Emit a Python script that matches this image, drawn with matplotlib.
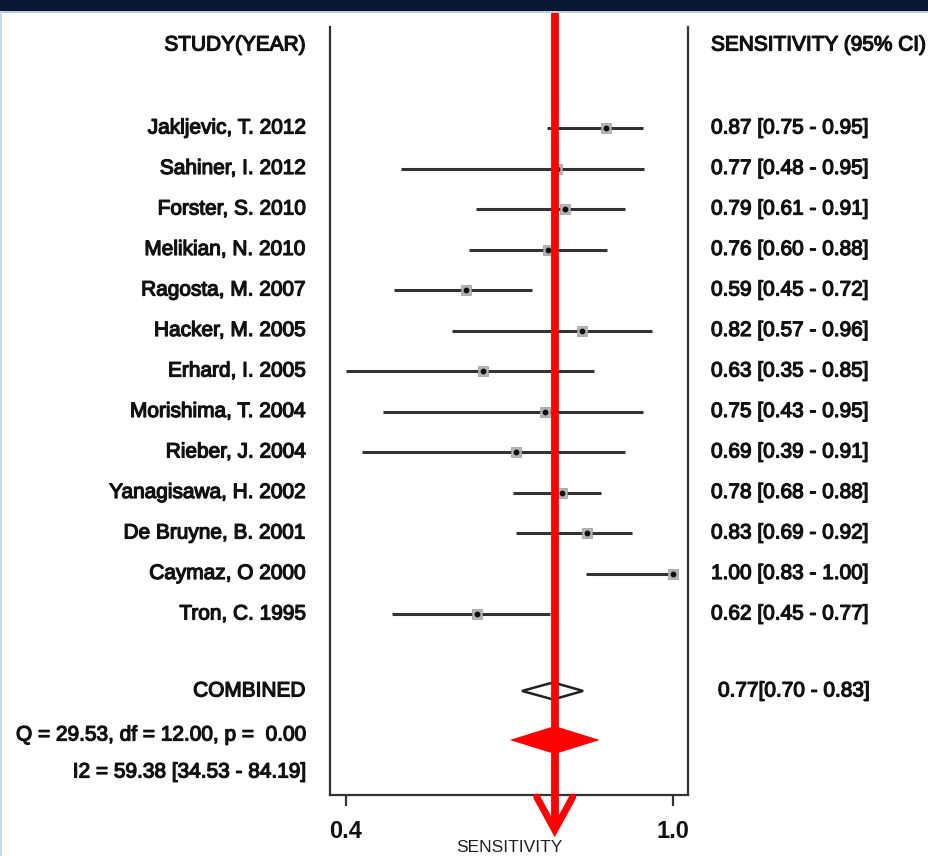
import matplotlib
matplotlib.use("Agg")
import matplotlib.pyplot as plt
import matplotlib.patheffects as pe
import numpy as np
from matplotlib.patches import Polygon, Rectangle
from matplotlib.transforms import blended_transform_factory

# ---------------------------------------------------------------- data --------
studies = ["Jakljevic, T. 2012", "Sahiner, I. 2012", "Forster, S. 2010",
           "Melikian, N. 2010", "Ragosta, M. 2007", "Hacker, M. 2005",
           "Erhard, I. 2005", "Morishima, T. 2004", "Rieber, J. 2004",
           "Yanagisawa, H. 2002", "De Bruyne, B. 2001", "Caymaz, O 2000",
           "Tron, C. 1995"]
# printed sensitivity [95% CI] column
sens_txt = [0.87, 0.77, 0.79, 0.76, 0.59, 0.82, 0.63, 0.75, 0.69, 0.78, 0.83, 1.00, 0.62]
lo_txt = [0.75, 0.48, 0.61, 0.60, 0.45, 0.57, 0.35, 0.43, 0.39, 0.68, 0.69, 0.83, 0.45]
hi_txt = [0.95, 0.95, 0.91, 0.88, 0.72, 0.96, 0.85, 0.95, 0.91, 0.88, 0.92, 1.00, 0.77]
# positions of the drawn marks
est_plot = [0.877, 0.787, 0.802, 0.771, 0.620, 0.833, 0.651, 0.765, 0.712, 0.796, 0.842, 1.000, 0.640]
lo_plot = [0.769, 0.501, 0.639, 0.626, 0.488, 0.595, 0.400, 0.468, 0.429, 0.706, 0.712, 0.840, 0.484]
hi_plot = [0.945, 0.947, 0.912, 0.879, 0.742, 0.961, 0.855, 0.945, 0.912, 0.868, 0.925, 1.000, 0.774]
comb_txt = (0.77, 0.70, 0.83)
comb_plot = (0.780, 0.723, 0.835)
het_q = "Q = 29.53, df = 12.00, p =  0.00"
het_i2 = "I2 = 59.38 [34.53 - 84.19]"
ref_line = 0.783

W, H = 929, 856
FONT = "Liberation Sans"
TXT = "#111111"
THICK = [pe.withStroke(linewidth=0.9, foreground=TXT)]

fig = plt.figure(figsize=(W / 100, H / 100), dpi=100)
fig.patch.set_facecolor("white")

# frame decorations of the slide
fig.patches.append(Rectangle((0, 1 - 11 / H), 1, 11 / H, transform=fig.transFigure,
                             facecolor="#0b1633", edgecolor="none", zorder=0))
fig.patches.append(Rectangle((0, 1 - 13 / H), 1, 2 / H, transform=fig.transFigure,
                             facecolor="#b9cde0", edgecolor="none", zorder=0))
fig.patches.append(Rectangle((0, 0), 2 / W, 1 - 11 / H, transform=fig.transFigure,
                             facecolor="#c6dcea", edgecolor="none", zorder=0))

# axes: 330..688 px wide, 27..795 px tall
ax = fig.add_axes([330 / W, 1 - 795 / H, (688 - 330) / W, (795 - 27) / H])
ax.set_facecolor("none")
PX = 545.0                       # pixels per sensitivity unit
ax.set_xlim(0.4 - 16 / PX, 1.0 + 15 / PX)
ROW0, STEP = 128, 40.5
ax.set_ylim((795 - ROW0) / STEP, (27 - ROW0) / STEP)

for sp in ("left", "right", "bottom"):
    ax.spines[sp].set_color("#333333")
    ax.spines[sp].set_linewidth(1.6)
ax.spines["top"].set_visible(False)
ax.set_yticks([])
ax.set_xticks([0.4, 1.0])
ax.set_xticklabels(["0.4", "1.0"])
ax.tick_params(axis="x", length=8, width=1.6, color="#333333", pad=10)
for t in ax.get_xticklabels():
    t.set_fontfamily(FONT)
    t.set_fontsize(17)
    t.set_fontweight("bold")
    t.set_color(TXT)

rows = np.arange(len(studies))
ax.hlines(rows, lo_plot, hi_plot, color="#333333", lw=2.2, zorder=2)
ax.plot(est_plot, rows, "s", ms=7, mfc="#b4b4b4", mec="#9a9a9a", mew=0.5, zorder=3)
ax.plot(est_plot, rows, "o", ms=3.2, color="#111111", zorder=4)

# combined (hollow diamond)
yc = 13.9
c_est, c_lo, c_hi = comb_plot
ax.add_patch(Polygon([(c_lo, yc), (c_est, yc - 0.21), (c_hi, yc), (c_est, yc + 0.21)],
                     closed=True, facecolor="none", edgecolor="#222222", lw=1.8,
                     zorder=3))

# ---------------------------------------------------------------- texts -------
tr = blended_transform_factory(fig.transFigure, ax.transData)
LX, RX = 306 / W, 711 / W
kw = dict(fontsize=15, family=FONT, color=TXT, va="center", transform=tr,
          path_effects=THICK)
ax.text(LX, (45 - ROW0) / STEP, "STUDY(YEAR)", ha="right", **kw)
ax.text(RX, (45 - ROW0) / STEP, "SENSITIVITY (95% CI)", ha="left", **kw)
for i, name in enumerate(studies):
    ax.text(LX, i, name, ha="right", **kw)
    ax.text(RX, i, f"{sens_txt[i]:.2f} [{lo_txt[i]:.2f} - {hi_txt[i]:.2f}]",
            ha="left", **kw)
ax.text(LX, yc, "COMBINED", ha="right", **kw)
ax.text(718 / W, yc, f"{comb_txt[0]:.2f}[{comb_txt[1]:.2f} - {comb_txt[2]:.2f}]",
        ha="left", **kw)
ax.text(LX, (735 - ROW0) / STEP, het_q, ha="right", **kw)
ax.text(LX, (772 - ROW0) / STEP, het_i2, ha="right", **kw)

fig.text(509 / W, 1 - 847 / H, "SENSITIVITY", ha="center", va="center",
         fontsize=12.5, family=FONT, color="#222222")

# ---------------------------------------------------------------- red overlay -
RED = "#ff0000"
y_top = (13 - ROW0) / STEP
y_tip = (830 - ROW0) / STEP
y_wing = (797 - ROW0) / STEP
ax.plot([ref_line, ref_line], [y_top, y_tip - 0.15], color=RED, lw=5.6, zorder=6,
        clip_on=False, solid_capstyle="butt")
wing = 18 / PX
ax.plot([ref_line - wing, ref_line, ref_line + wing], [y_wing, y_tip, y_wing],
        color=RED, lw=5, zorder=6, clip_on=False, solid_joinstyle="miter",
        solid_capstyle="round")
yd = (740 - ROW0) / STEP
dx, dy = 45 / PX, 14 / STEP
ax.add_patch(Polygon([(ref_line - dx, yd), (ref_line, yd - dy), (ref_line + dx, yd),
                      (ref_line, yd + dy)], closed=True, facecolor=RED,
                     edgecolor="none", zorder=6, clip_on=False))

fig.savefig("out.png", dpi=100)
